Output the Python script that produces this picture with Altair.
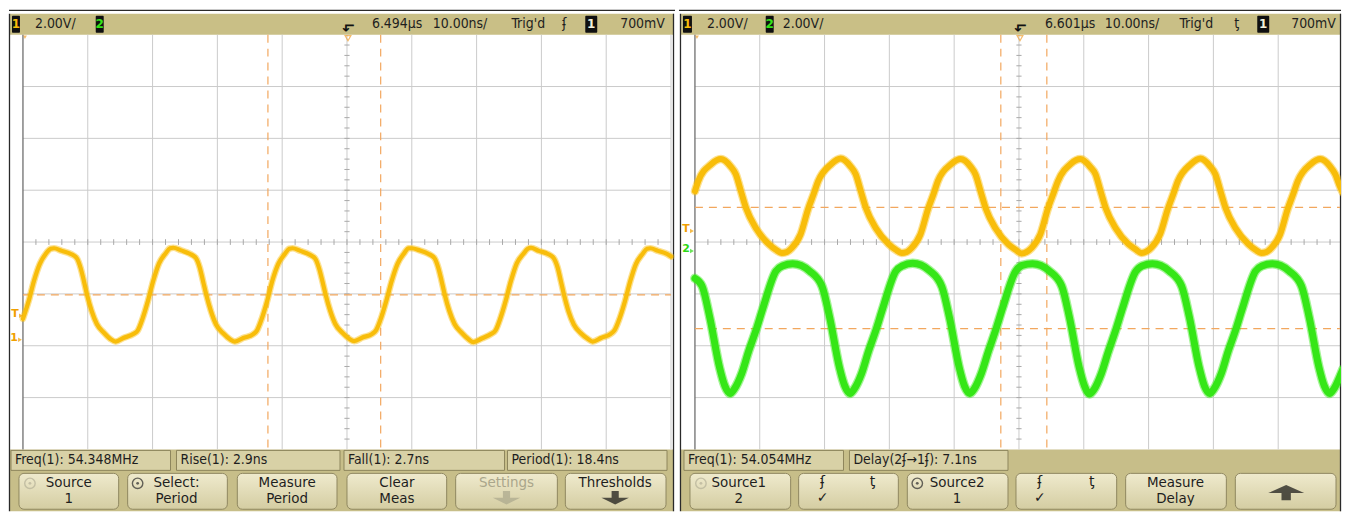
import altair as alt
import pandas as pd

# ---------------- values ----------------
# time: ns from the left edge of the graticule (10 ns/div); level: divisions from screen centre (2.00 V/div)
L_CH1_T = [
    0.0, 0.9, 1.7, 2.6, 3.5, 4.3, 4.8, 6.0, 7.4, 8.3, 8.9, 9.4, 9.9, 10.6, 11.4, 12.5, 13.5, 14.3, 15.5, 17.1, 17.7, 18.5, 19.3,
    20.1, 21.0, 22.0, 22.7, 23.2, 24.4, 25.8, 26.7, 27.3, 27.8, 28.3, 29.0, 29.8, 30.9, 32.0, 32.7, 34.0, 35.5, 36.1, 36.9, 37.7,
    38.5, 39.4, 40.4, 41.1, 41.6, 42.8, 44.2, 45.1, 45.7, 46.2, 46.7, 47.4, 48.2, 49.3, 50.4, 51.1, 52.4, 53.9, 54.5, 55.3, 56.1,
    56.9, 57.8, 58.8, 59.5, 60.0, 61.2, 62.6, 63.5, 64.1, 64.6, 65.1, 65.8, 66.6, 67.7, 68.8, 69.5, 70.8, 72.3, 72.9, 73.7, 74.5,
    75.3, 76.2, 77.2, 77.9, 78.4, 79.6, 81.0, 81.9, 82.5, 83.0, 83.5, 84.2, 85.0, 86.1, 87.2, 87.9, 89.2, 90.7, 91.3, 92.1, 92.9,
    93.7, 94.6, 95.6, 96.3, 96.8, 98.0, 99.4, 100.0,
]
L_CH1_V = [
    -1.48, -1.13, -0.75, -0.42, -0.23, -0.13, -0.12, -0.17, -0.23, -0.31, -0.50, -0.75, -1.02, -1.33, -1.58, -1.75, -1.87, -1.92, -1.85, -1.77, -1.71, -1.46, -1.13,
    -0.75, -0.41, -0.22, -0.12, -0.11, -0.16, -0.23, -0.31, -0.50, -0.76, -1.02, -1.33, -1.59, -1.76, -1.88, -1.92, -1.85, -1.78, -1.71, -1.46, -1.13,
    -0.74, -0.42, -0.23, -0.13, -0.12, -0.17, -0.24, -0.32, -0.51, -0.75, -1.01, -1.32, -1.58, -1.75, -1.87, -1.91, -1.84, -1.77, -1.70, -1.45, -1.12,
    -0.75, -0.42, -0.22, -0.12, -0.12, -0.16, -0.23, -0.31, -0.50, -0.75, -1.02, -1.33, -1.58, -1.75, -1.88, -1.93, -1.86, -1.77, -1.71, -1.46, -1.13,
    -0.75, -0.41, -0.23, -0.13, -0.11, -0.17, -0.23, -0.31, -0.49, -0.75, -1.02, -1.34, -1.59, -1.76, -1.87, -1.92, -1.85, -1.77, -1.70, -1.46, -1.14,
    -0.76, -0.42, -0.23, -0.13, -0.12, -0.17, -0.23, -0.28,
]
R_CH1_T = [
    0.0, 0.5, 2.5, 4.0, 5.5, 6.3, 7.1, 7.9, 9.4, 11.4, 12.5, 13.4, 14.2, 14.9, 16.3, 17.5, 18.3,
    19.0, 21.0, 22.5, 24.0, 24.8, 25.6, 26.4, 27.9, 29.9, 31.0, 31.9, 32.7, 33.4, 34.8, 36.0, 36.8,
    37.5, 39.5, 41.0, 42.5, 43.3, 44.1, 44.9, 46.4, 48.4, 49.5, 50.4, 51.2, 51.9, 53.3, 54.5, 55.3,
    56.0, 58.0, 59.5, 61.0, 61.8, 62.6, 63.4, 64.9, 66.9, 68.0, 68.9, 69.7, 70.4, 71.8, 73.0, 73.8,
    74.5, 76.5, 78.0, 79.5, 80.3, 81.1, 81.9, 83.4, 85.4, 86.5, 87.4, 88.2, 88.9, 90.3, 91.5, 92.3,
    93.0, 95.0, 96.5, 98.0, 98.8, 99.6, 100.0,
]
R_CH1_V = [
    0.98, 1.17, 1.50, 1.60, 1.46, 1.31, 0.98, 0.65, 0.27, -0.04, -0.15, -0.21, -0.19, -0.12, 0.15, 0.65, 0.92,
    1.17, 1.50, 1.61, 1.46, 1.31, 0.98, 0.65, 0.27, -0.04, -0.15, -0.21, -0.19, -0.12, 0.15, 0.65, 0.92,
    1.18, 1.50, 1.60, 1.46, 1.30, 0.97, 0.64, 0.26, -0.05, -0.15, -0.22, -0.19, -0.12, 0.15, 0.66, 0.93,
    1.17, 1.51, 1.60, 1.45, 1.31, 0.98, 0.65, 0.27, -0.04, -0.14, -0.21, -0.18, -0.11, 0.16, 0.65, 0.92,
    1.17, 1.50, 1.61, 1.46, 1.31, 0.98, 0.65, 0.27, -0.04, -0.15, -0.21, -0.19, -0.12, 0.15, 0.65, 0.92,
    1.17, 1.50, 1.60, 1.46, 1.31, 1.05, 0.95,
]
R_CH2_T = [
    0.0, 1.1, 2.3, 3.8, 4.6, 5.4, 6.1, 7.2, 8.3, 9.4, 10.5, 12.5, 13.5,
    15.1, 17.7, 19.6, 20.8, 22.3, 23.1, 23.9, 24.6, 25.7, 26.8, 27.9, 29.0, 31.0, 32.0,
    33.6, 36.2, 38.1, 39.3, 40.8, 41.6, 42.4, 43.1, 44.2, 45.3, 46.4, 47.5, 49.5, 50.5,
    52.1, 54.7, 56.6, 57.8, 59.3, 60.1, 60.9, 61.6, 62.7, 63.8, 64.9, 66.0, 68.0, 69.0,
    70.6, 73.2, 75.1, 76.3, 77.8, 78.6, 79.4, 80.1, 81.2, 82.3, 83.4, 84.5, 86.5, 87.5,
    89.1, 91.7, 93.6, 94.8, 96.3, 97.1, 97.9, 98.6, 99.7, 100.0,
]
R_CH2_V = [
    -0.70, -0.85, -1.46, -2.42, -2.77, -2.92, -2.83, -2.54, -2.10, -1.71, -1.27, -0.56, -0.46,
    -0.42, -0.56, -0.85, -1.46, -2.42, -2.77, -2.92, -2.83, -2.54, -2.10, -1.71, -1.27, -0.56, -0.46,
    -0.41, -0.55, -0.86, -1.47, -2.43, -2.78, -2.92, -2.83, -2.53, -2.10, -1.70, -1.26, -0.56, -0.45,
    -0.42, -0.56, -0.85, -1.46, -2.42, -2.77, -2.93, -2.84, -2.54, -2.11, -1.71, -1.27, -0.57, -0.46,
    -0.42, -0.56, -0.85, -1.45, -2.41, -2.77, -2.92, -2.83, -2.54, -2.10, -1.71, -1.27, -0.56, -0.46,
    -0.42, -0.56, -0.85, -1.46, -2.42, -2.77, -2.92, -2.83, -2.54, -2.45,
]
# measurement thresholds (divisions) and cursors (ns)
L_THRESH = [-1.02]
L_CURSOR = [37.8, 55.2]
R_THRESH = [0.67, -1.67]
R_CURSOR = [47.2, 54.3]

# texts
L_HEAD = ["2.00V/", "6.494µs", "10.00ns/", "Trig'd", "ʄ", "700mV"]
R_HEAD = ["2.00V/", "2.00V/", "6.601µs", "10.00ns/", "Trig'd", "ƫ", "700mV"]
L_MEAS = ["Freq(1): 54.348MHz", "Rise(1): 2.9ns", "Fall(1): 2.7ns", "Period(1): 18.4ns"]
R_MEAS = ["Freq(1): 54.054MHz", "Delay(2ʄ→1ʄ): 7.1ns"]
L_KEY1 = ["Source", "Select:", "Measure", "Clear", "Settings", "Thresholds"]
L_KEY2 = ["1", "Period", "Period", "Meas", "", ""]
R_KEY1 = ["Source1", "", "Source2", "", "Measure", ""]
R_KEY2 = ["2", "✓", "1", "✓", "Delay", ""]

# ---------------- layout (screen geometry) ----------------
PXN, PXD, CY, TOP, H = 6.5, 52.0, 241.0, 8, 503
FONT = "Liberation Sans Narrow, Arial Narrow, DejaVu Sans Condensed, Roboto Condensed, sans-serif"
INK = "#1e1e1e"
KHAKI = "#c9bf86"
YEL = "#f8bd0a"
GRN = "#35e617"
ORG = "#f2a75e"
GRID = "#cbcbcb"
L1, L2 = 482, 498   # softkey text lines

DOWN = "M-0.26,-0.6L0.26,-0.6L0.26,-0.12L1,-0.12L0,0.38L-1,-0.12L-0.26,-0.12Z"
UP = "M-0.26,0.5L0.26,0.5L0.26,0.1L1,0.1L0,-0.35L-1,0.1L-0.26,0.1Z"


def vy(py):
    return (CY - py) / PXD


def build(cfg):
    g, x0, w = cfg["g"], cfg["x0"], cfg["w"]

    def tx(px):
        return (px - g) / PXN

    xmax = min(100.0, tx(x0 + w - 1))
    xs = alt.Scale(domain=[tx(x0), tx(x0 + w)], nice=False, zero=False)
    ys = alt.Scale(domain=[vy(TOP + H), vy(TOP)], nice=False, zero=False)

    def X(f):
        return alt.X(f, type="quantitative", scale=xs, axis=None)

    def Y(f):
        return alt.Y(f, type="quantitative", scale=ys, axis=None)

    def boxes(rows, **mk):
        df = pd.DataFrame({"x": [tx(r[0]) for r in rows], "x2": [tx(r[1]) for r in rows],
                           "y": [vy(r[2]) for r in rows], "y2": [vy(r[3]) for r in rows]})
        return alt.Chart(df).mark_rect(**mk).encode(x=X("x"), x2=alt.X2("x2"), y=Y("y"), y2=alt.Y2("y2"))

    def segs(df, **mk):
        return alt.Chart(df).mark_rule(**mk).encode(x=X("x"), x2=alt.X2("x2"), y=Y("y"), y2=alt.Y2("y2"))

    def pxsegs(rows, **mk):
        df = pd.DataFrame({"x": [tx(r[0]) for r in rows], "x2": [tx(r[1]) for r in rows],
                           "y": [vy(r[2]) for r in rows], "y2": [vy(r[3]) for r in rows]})
        return segs(df, **mk)

    def texts(rows, **mk):
        rows = [r for r in rows if r[2]]
        df = pd.DataFrame({"x": [tx(r[0]) for r in rows], "y": [vy(r[1]) for r in rows], "t": [r[2] for r in rows]})
        return alt.Chart(df).mark_text(**mk).encode(x=X("x"), y=Y("y"), text="t:N")

    def pts(rows, **mk):
        df = pd.DataFrame({"x": [tx(r[0]) for r in rows], "y": [vy(r[1]) for r in rows]})
        return alt.Chart(df).mark_point(**mk).encode(x=X("x"), y=Y("y"))

    def trace(t, v, color, width):
        df = pd.DataFrame({"t": t, "v": v})
        base = alt.Chart(df)
        halo = base.mark_line(color=color, strokeWidth=width + 2.5, opacity=0.45, interpolate="monotone",
                              strokeCap="round", strokeJoin="round", clip=True).encode(x=X("t"), y=Y("v"))
        core = base.mark_line(color=color, strokeWidth=width, interpolate="monotone",
                              strokeCap="round", strokeJoin="round", clip=True).encode(x=X("t"), y=Y("v"))
        return [halo, core]

    L = []
    xl, xr = cfg["frame"]
    # panels
    L.append(boxes([(xl + 1, xr, 12, 33)], color=KHAKI))
    L.append(boxes([(xl + 1, xr, 449, TOP + H)], color="#c7be89"))
    # graticule
    vg = [float(k) for k in range(10, 101, 10) if k <= xmax]
    L.append(segs(pd.DataFrame({"x": vg, "x2": vg, "y": [4.0] * len(vg), "y2": [-4.0] * len(vg)}),
                  color=GRID, strokeWidth=1))
    hg = [float(k) for k in range(-3, 4)]
    L.append(segs(pd.DataFrame({"x": [0.0] * len(hg), "x2": [xmax] * len(hg), "y": hg, "y2": hg}),
                  color=GRID, strokeWidth=1))
    L.append(segs(pd.DataFrame({"x": [0.0], "x2": [0.0], "y": [4.0], "y2": [-4.0]}), color="#6e6e6e", strokeWidth=1.3))
    ht = [k * 2.0 for k in range(1, 50)]
    L.append(segs(pd.DataFrame({"x": ht, "x2": ht, "y": [0.055] * len(ht), "y2": [-0.055] * len(ht)}),
                  color="#a9a9a9", strokeWidth=1))
    vt = [k * 0.2 for k in range(-19, 20) if k != 0]
    L.append(segs(pd.DataFrame({"x": [49.6] * len(vt), "x2": [50.4] * len(vt), "y": vt, "y2": vt}),
                  color="#a9a9a9", strokeWidth=1))
    # frame lines
    L.append(pxsegs([(xl + 0.5, xl + 0.5, 12, TOP + H), (xr - 0.5, xr - 0.5, 12, TOP + H), (x0, x0 + w, 8.6, 8.6)],
                    color="#2a2a2a", strokeWidth=1.3))
    # thresholds and cursors
    th, cu = cfg["thresh"], cfg["cursor"]
    L.append(segs(pd.DataFrame({"x": [0.0] * len(th), "x2": [xmax] * len(th), "y": th, "y2": th}),
                  color=ORG, strokeWidth=1.2, strokeDash=[8, 6]))
    L.append(segs(pd.DataFrame({"x": cu, "x2": cu, "y": [4.0] * len(cu), "y2": [-4.0] * len(cu)}),
                  color=ORG, strokeWidth=1.2, strokeDash=[8, 6]))
    # traces
    for t, v, c, wd in cfg["traces"]:
        L.extend(trace(t, v, c, wd))
    # screen markers
    for (px, py, s, c) in cfg["marks"]:
        L.append(texts([(px, py, s)], font="DejaVu Sans", fontSize=11, color=c, fontWeight="bold"))
        L.append(pts([(px + 6, py + 2)], shape="triangle-right", filled=True, color=c, size=20, strokeWidth=0))
    L.append(pts([(g + 2, 35.5)], shape="triangle-down", filled=True, color="#f0a030", size=16, strokeWidth=0))
    # trigger position marker
    tp = cfg["trig"]
    L.append(texts([(tp, 26, "↳")], font="DejaVu Sans", fontSize=15, angle=90, color="#111111", fontWeight="bold"))
    L.append(pts([(tp, 36.5)], shape="triangle-down", filled=False, color="#f0a030", size=34, strokeWidth=1.2))
    # header
    L.append(boxes(cfg["badges"], color="#101010", cornerRadius=1))
    for (px, s, c) in cfg["badge_txt"]:
        L.append(texts([(px, 22.5, s)], font="DejaVu Sans", fontSize=12, fontWeight="bold", color=c))
    L.append(texts(cfg["head"], font=FONT, fontSize=14, align="left", color=INK))
    # measurement row
    L.append(boxes(cfg["meas_box"], color="#d8d1a6", stroke="#8e865c", strokeWidth=1))
    L.append(texts(cfg["meas"], font=FONT, fontSize=14, align="left", color=INK))
    # softkeys
    grad = alt.Gradient(gradient="linear", x1=0, x2=0, y1=0, y2=1,
                        stops=[alt.GradientStop(color="#efeacd", offset=0),
                               alt.GradientStop(color="#d4cda2", offset=1)])
    L.append(boxes(cfg["keys"], color=grad, stroke="#8f875f", strokeWidth=1, cornerRadius=5))
    L.append(texts(cfg["key_txt"], font=FONT, fontSize=15, color=INK))
    if cfg.get("key_grey"):
        L.append(texts(cfg["key_grey"], font=FONT, fontSize=15, color="#aaa68b"))
    if cfg.get("key_sym"):
        L.append(texts(cfg["key_sym"], font="DejaVu Sans", fontSize=14, color=INK))
    for (px, py, c) in cfg["knobs"]:
        L.append(pts([(px, py)], shape="circle", filled=False, color=c, size=110, strokeWidth=1.4))
        L.append(pts([(px, py)], shape="circle", filled=True, color=c, size=8, strokeWidth=0))
    for (px, py, shp, sz, c) in cfg["arrows"]:
        L.append(pts([(px, py)], shape=shp, filled=True, color=c, size=sz, strokeWidth=0))

    return alt.layer(*L).properties(width=w, height=H)


left_cfg = dict(
    x0=8, w=668, g=22, frame=(8, 675), trig=348,
    thresh=L_THRESH, cursor=L_CURSOR,
    traces=[(L_CH1_T, L_CH1_V, YEL, 4.2)],
    marks=[(14, 313, "T", "#f0a000"), (13, 337, "1", "#f0a000")],
    badges=[(11, 19, 14, 31), (95, 103, 14, 31), (586, 598, 14, 31)],
    badge_txt=[(15, "1", YEL), (99, "2", GRN), (592, "1", "#f2f0dc")],
    head=[(34, 22.5, L_HEAD[0]), (372, 22.5, L_HEAD[1]), (433, 22.5, L_HEAD[2]),
          (512, 22.5, L_HEAD[3]), (563, 22.5, L_HEAD[4]), (621, 22.5, L_HEAD[5])],
    meas_box=[(10, 170, 450, 470), (176, 340, 450, 470), (344, 505, 450, 470), (508, 668, 450, 470)],
    meas=[(14, 460, L_MEAS[0]), (180, 460, L_MEAS[1]), (348, 460, L_MEAS[2]), (512, 460, L_MEAS[3])],
    keys=[(18, 118, 473, 509), (127, 227, 473, 509), (237, 337, 473, 509),
          (347, 447, 473, 509), (456, 558, 473, 509), (566, 667, 473, 509)],
    key_txt=[(68, L1, L_KEY1[0]), (176, L1, L_KEY1[1]), (287, L1, L_KEY1[2]), (397, L1, L_KEY1[3]),
             (616, L1, L_KEY1[5]),
             (68, L2, L_KEY2[0]), (176, L2, L_KEY2[1]), (287, L2, L_KEY2[2]), (397, L2, L_KEY2[3])],
    key_grey=[(507, L1, L_KEY1[4])],
    knobs=[(29, L1 + 1, "#b5b198"), (137, L1 + 1, "#2a2a2a")],
    arrows=[(507, L2 + 1, DOWN, 760, "#aaa68b"), (616, L2 + 1, DOWN, 760, "#111111")],
)

right_cfg = dict(
    x0=678, w=664, g=694, frame=(679, 1342), trig=1020,
    thresh=R_THRESH, cursor=R_CURSOR,
    traces=[(R_CH1_T, R_CH1_V, YEL, 6.0), (R_CH2_T, R_CH2_V, GRN, 7.0)],
    marks=[(685, 228, "T", "#f0a000"), (685, 248, "2", "#2fd814")],
    badges=[(682, 691, 14, 31), (765, 773, 14, 31), (1258, 1270, 14, 31)],
    badge_txt=[(686.5, "1", YEL), (769, "2", GRN), (1264, "1", "#f2f0dc")],
    head=[(706, 22.5, R_HEAD[0]), (782, 22.5, R_HEAD[1]), (1045, 22.5, R_HEAD[2]), (1105, 22.5, R_HEAD[3]),
          (1180, 22.5, R_HEAD[4]), (1235, 22.5, R_HEAD[5]), (1292, 22.5, R_HEAD[6])],
    meas_box=[(683, 843, 450, 470), (849, 1008, 450, 470)],
    meas=[(687, 460, R_MEAS[0]), (853, 460, R_MEAS[1])],
    keys=[(689, 790, 473, 509), (798, 898, 473, 509), (907, 1008, 473, 509),
          (1016, 1117, 473, 509), (1126, 1227, 473, 509), (1236, 1337, 473, 509)],
    key_txt=[(738, L1, R_KEY1[0]), (957, L1, R_KEY1[2]), (1176, L1, R_KEY1[4]),
             (738, L2, R_KEY2[0]), (957, L2, R_KEY2[2]), (1176, L2, R_KEY2[4])],
    key_sym=[(822, L1, "ʄ"), (872, L1, "ƫ"), (1040, L1, "ʄ"), (1092, L1, "ƫ"),
             (822, L2, R_KEY2[1]), (1040, L2, R_KEY2[3])],
    knobs=[(700, L1 + 1, "#b5b198"), (917, L1 + 1, "#2a2a2a")],
    arrows=[(1287, 491, UP, 1300, "#111111")],
)

chart = alt.hconcat(build(left_cfg), build(right_cfg), spacing=2).properties(
    padding=0, background="white"
).configure_view(strokeWidth=0)

chart.save("out.html", embed_options={"renderer": "svg", "actions": False})
